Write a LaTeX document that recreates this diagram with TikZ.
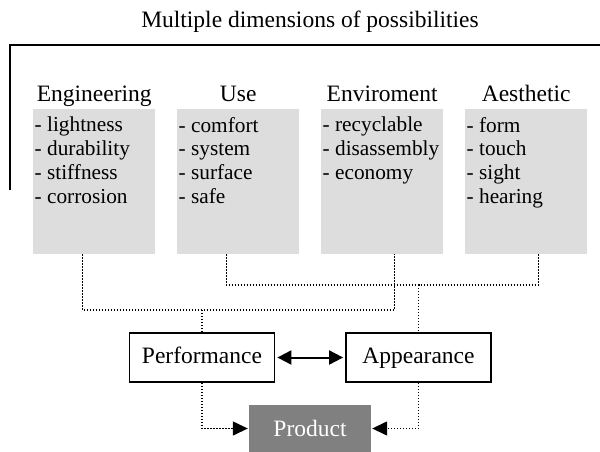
\documentclass[tikz,border=0pt]{standalone}
\usepackage{fontspec}
\setmainfont{Liberation Serif}
\usetikzlibrary{arrows.meta}
\definecolor{panelgray}{RGB}{221,221,221}
\definecolor{prodgray}{RGB}{128,128,128}
\begin{document}
\begin{tikzpicture}[x=1pt,y=-1pt,
  hdr/.style={font=\fontsize{23.5}{28}\selectfont, anchor=base, inner sep=0pt},
  itemlist/.style={font=\fontsize{21.3}{23.7}\selectfont, anchor=north west, align=left, inner sep=0pt},
  panel/.style={fill=panelgray, anchor=north west, minimum width=122pt, minimum height=145pt, inner sep=0pt},
  framebox/.style={draw, line width=1.8pt, fill=white, minimum width=145pt, minimum height=49pt,
    inner sep=0pt, text height=16.5pt, text depth=5.5pt, font=\fontsize{23.5}{28}\selectfont},
  prodbox/.style={fill=prodgray, text=white, minimum width=122pt, minimum height=47pt,
    inner sep=0pt, font=\fontsize{23.5}{28}\selectfont},
  link/.style={line width=1.4pt, dash pattern=on 1.4pt off 1.6pt},
  headtip/.style={-{Triangle[length=15pt,width=14pt]}, shorten >=1pt}
]
\useasboundingbox (0,0) rectangle (600,452);

% heading and bracket
\node[hdr] (title) at (310,28) {Multiple dimensions of possibilities};
\coordinate (bl) at (10,190);
\coordinate (br) at (600,45);
\draw[line width=1.8pt] (bl) |- (br);

% the four dimension panels
\node[panel] (eng) at (33,109) {};
\node[panel] (use) at (177,109) {};
\node[panel] (env) at (321,109) {};
\node[panel] (aes) at (465,109) {};

\node[hdr] (engh) at ([yshift=8pt]eng.north) {Engineering};
\node[hdr] (useh) at ([yshift=8pt]use.north) {Use};
\node[hdr] (envh) at ([yshift=8pt]env.north) {Enviroment};
\node[hdr] (aesh) at ([yshift=8pt]aes.north) {Aesthetic};

\node[itemlist] (engl) at ([xshift=1.5pt,yshift=-8pt]eng.north west)
  {- lightness\\- durability\\- stiffness\\- corrosion};
\node[itemlist] (usel) at ([xshift=1.5pt,yshift=-8pt]use.north west)
  {- comfort\\- system\\- surface\\- safe};
\node[itemlist] (envl) at ([xshift=1.5pt,yshift=-8pt]env.north west)
  {- recyclable\\- disassembly\\- economy};
\node[itemlist] (aesl) at ([xshift=1.5pt,yshift=-8pt]aes.north west)
  {- form\\- touch\\- sight\\- hearing};

% result boxes
\node[framebox] (perf) at (202,357.5) {Performance};
\node[framebox] (app) at (418.5,357.5) {Appearance};
\node[prodbox] (prod) at (310,428.5) {Product};

% dotted collectors
\coordinate (pbus) at (202,310);
\coordinate (abus) at (418.5,285);
\draw[link] ([xshift=-12pt]eng.south) |- (pbus) -| ([xshift=12pt]env.south);
\draw[link] (pbus) -- (perf.north);
\draw[link] ([xshift=-12pt]use.south) |- (abus) -| ([xshift=12pt]aes.south);
\draw[link] (abus) -- (app.north);

% arrows
\draw[line width=2pt, {Triangle[length=14pt,width=14pt]}-{Triangle[length=14pt,width=14pt]},
  shorten <=2pt, shorten >=2pt] (perf.east) -- (app.west);
\draw[link, headtip] (perf.south) |- (prod.west);
\draw[link, headtip] (app.south) |- (prod.east);
\end{tikzpicture}
\end{document}
